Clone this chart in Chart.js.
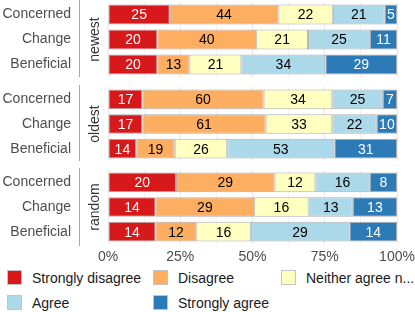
<!DOCTYPE html>
<html>
<head>
<meta charset="utf-8">
<script src="https://cdn.jsdelivr.net/npm/chart.js@4/dist/chart.umd.min.js"></script>
<style>
    body { margin: 0; width: 415px; height: 312px; overflow: hidden; background: #fff; position: relative;
           font-family: "Liberation Sans", Arial, sans-serif; }
    .panel { position: absolute; left: 0; width: 415px; }
    .item { position: absolute; height: 15px; display: flex; align-items: center; font-size: 14px; color: #1a1a1a; white-space: nowrap; }
    .sw { width: 15px; height: 15px; box-sizing: border-box; border: 1px solid #c4c4c4; flex: none; }
    .txt { margin-left: 10px; }
</style>
</head>
<body>
<div class="panel" style="top:0px;height:77px"><canvas id="c0"></canvas></div>
<div class="panel" style="top:85px;height:76px"><canvas id="c1"></canvas></div>
<div class="panel" style="top:168px;height:96px"><canvas id="c2"></canvas></div>
<div id="legend"></div>
<script>

// Categories / facets
const categories = ['Concerned', 'Change', 'Beneficial']
const groups = ['newest', 'oldest', 'random']
const levels = ['Strongly disagree', 'Disagree', 'Neither agree nor disagree', 'Agree', 'Strongly agree']
const levelColors = ['#d7191c', '#fdae61', '#ffffbf', '#abd9e9', '#2c7bb6']
const levelText = ['#ffffff', '#000000', '#000000', '#000000', '#ffffff']
const xTickLabels = ['0%', '25%', '50%', '75%', '100%']

// Counts, rows: newest (Concerned, Change, Beneficial), oldest (...), random (...)
const stronglyDisagree = [25, 20, 20, 17, 17, 14, 20, 14, 14]
const disagree         = [44, 40, 13, 60, 61, 19, 29, 29, 12]
const neither          = [22, 21, 21, 34, 33, 26, 12, 16, 16]
const agree            = [21, 25, 34, 25, 22, 53, 16, 13, 29]
const stronglyAgree    = [ 5, 11, 29,  7, 10, 31,  8, 13, 14]

const series = [stronglyDisagree, disagree, neither, agree, stronglyAgree]
const FONT = '"Liberation Sans", Arial, sans-serif'

// Row totals so every bar fills 100%
const totals = stronglyDisagree.map((_, r) => series.reduce((s, arr) => s + arr[r], 0))


// Count labels in the middle of each segment
const barLabels = {
    id: 'barLabels',
    afterDatasetsDraw(chart) {
        const ctx = chart.ctx
        ctx.save()
        ctx.font = '14px ' + FONT
        ctx.textAlign = 'center'
        ctx.textBaseline = 'middle'
        chart.data.datasets.forEach((ds, di) => {
            chart.getDatasetMeta(di).data.forEach((bar, i) => {
                const p = bar.getCenterPoint()
                ctx.fillStyle = ds.textColor
                ctx.fillText(ds.counts[i], p.x, p.y + 1)
            })
        })
        ctx.restore()
    }
}

// Facet strip: line + rotated group name between the labels and the plot
const strip = {
    id: 'strip',
    afterDraw(chart, args, opts) {
        const { ctx, chartArea: a } = chart
        ctx.save()
        ctx.strokeStyle = '#a6a6a6'
        ctx.lineWidth = 1
        ctx.beginPath()
        ctx.moveTo(79.5, a.top - 2)
        ctx.lineTo(79.5, a.bottom + 2)
        ctx.stroke()
        ctx.translate(95, (a.top + a.bottom) / 2)
        ctx.rotate(-Math.PI / 2)
        ctx.fillStyle = '#333333'
        ctx.font = '14px ' + FONT
        ctx.textAlign = 'center'
        ctx.textBaseline = 'middle'
        ctx.fillText(opts.text, 0, 0)
        ctx.restore()
    }
}


groups.forEach((g, gi) => {
    const rows = [gi * 3, gi * 3 + 1, gi * 3 + 2]
    const last = gi === groups.length - 1

    const datasets = levels.map((lvl, li) => ({
        label: lvl,
        data: rows.map(r => series[li][r] / totals[r] * 100),
        counts: rows.map(r => series[li][r]),
        backgroundColor: levelColors[li],
        borderColor: 'rgba(140, 140, 140, 0.7)',
        borderWidth: 1,
        borderSkipped: false,
        textColor: levelText[li],
        barPercentage: 0.8,
        categoryPercentage: 1
    }))

    const config = {
        type: 'bar',
        data: { labels: categories, datasets: datasets },
        options: {
            indexAxis: 'y',
            responsive: true,
            maintainAspectRatio: false,
            animation: false,
            devicePixelRatio: 1,
            layout: { padding: { top: 2, right: 18, left: 0, bottom: 0 } },
            plugins: {
                legend: { display: false },
                tooltip: { enabled: false },
                strip: { text: g }
            },
            scales: {
                x: {
                    stacked: true,
                    min: 0,
                    max: 100,
                    border: { display: false },
                    grid: {
                        drawTicks: false,
                        color: '#e8e8e8',
                        lineWidth: c => c.index % 2 === 0 ? 1 : 0.6
                    },
                    ticks: {
                        display: last,
                        stepSize: 12.5,
                        autoSkip: false,
                        maxRotation: 0,
                        padding: 5,
                        color: '#4d4d4d',
                        font: { size: 14, family: FONT },
                        callback: (v, i) => i % 2 === 0 ? xTickLabels[i / 2] : ''
                    },
                    afterFit: s => {
                        s.height = last ? 20 : 0
                        s.paddingLeft = 0
                        s.paddingRight = 0
                    }
                },
                y: {
                    stacked: true,
                    border: { display: false },
                    grid: { display: false, drawTicks: false },
                    ticks: {
                        padding: 37,
                        color: '#4d4d4d',
                        font: { size: 14, family: FONT }
                    },
                    // tick padding also pads top/bottom; drop that, fix width
                    afterFit: s => {
                        s.width = 108
                        s.paddingTop = 0
                        s.paddingBottom = 0
                    }
                }
            }
        },
        plugins: [barLabels, strip]
    }

    new Chart(document.getElementById('c' + gi).getContext('2d'), config)
})


// Legend (3 columns, wraps to a second row); long names cut with "..."
const legendCols = [7, 153, 281]
const legendRows = [270, 295]
const legend = document.getElementById('legend')
const measure = document.createElement('canvas').getContext('2d')
measure.font = '14px ' + FONT

function fitText(txt, maxW) {
    if (measure.measureText(txt).width <= maxW) return txt
    let t = txt
    while (t.length > 1 && measure.measureText(t + '...').width > maxW) t = t.slice(0, -1)
    return t.trimEnd() + '...'
}

levels.forEach((lvl, i) => {
    const item = document.createElement('div')
    item.className = 'item'
    const col = i % 3
    item.style.left = legendCols[col] + 'px'
    item.style.top = legendRows[Math.floor(i / 3)] + 'px'
    item.innerHTML = '<div class="sw" style="background:' + levelColors[i] + '"></div><span class="txt"></span>'
    item.querySelector('.txt').textContent = fitText(lvl, 415 - legendCols[col] - 25)
    legend.appendChild(item)
})

</script>
</body>
</html>
